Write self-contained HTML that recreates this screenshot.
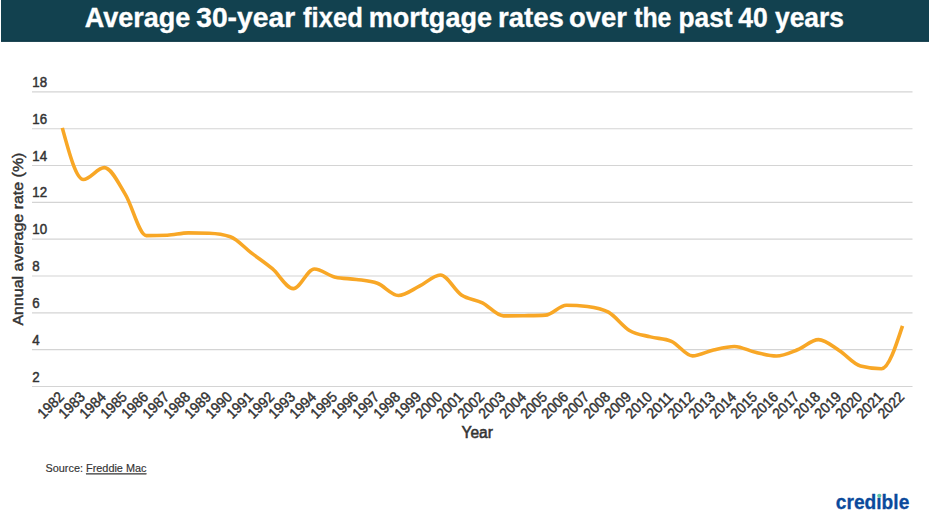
<!DOCTYPE html>
<html><head><meta charset="utf-8"><style>
html,body{margin:0;padding:0;background:#fff;width:931px;height:523px;overflow:hidden;position:relative;font-family:"Liberation Sans",sans-serif;}
svg{position:absolute;left:0;top:0;}
.g line{stroke:#d4d4d4;stroke-width:1.15;}
.yl text{font-size:14.8px;fill:#333;stroke:#333;stroke-width:0.5px;}
.xl text{font-size:14.8px;fill:#333;stroke:#333;stroke-width:0.45px;text-anchor:end;}
</style></head><body>
<svg width="931" height="523" viewBox="0 0 931 523" font-family="Liberation Sans, sans-serif">
<rect x="1" y="0" width="928" height="41.7" fill="#12414f"/>
<rect x="1" y="40.7" width="928" height="1" fill="#0b3442"/>
<g font-size="27.8" font-weight="bold" fill="#fff" stroke="#fff" stroke-width="0.35"><text x="84.79" y="27.3" textLength="105.61" lengthAdjust="spacingAndGlyphs">Average</text><text x="196.20" y="27.3" textLength="98.98" lengthAdjust="spacingAndGlyphs">30-year</text><text x="303.00" y="27.3" textLength="59.82" lengthAdjust="spacingAndGlyphs">fixed</text><text x="368.77" y="27.3" textLength="123.22" lengthAdjust="spacingAndGlyphs">mortgage</text><text x="497.91" y="27.3" textLength="65.91" lengthAdjust="spacingAndGlyphs">rates</text><text x="568.98" y="27.3" textLength="58.04" lengthAdjust="spacingAndGlyphs">over</text><text x="634.19" y="27.3" textLength="37.25" lengthAdjust="spacingAndGlyphs">the</text><text x="678.54" y="27.3" textLength="54.02" lengthAdjust="spacingAndGlyphs">past</text><text x="738.37" y="27.3" textLength="29.47" lengthAdjust="spacingAndGlyphs">40</text><text x="775.00" y="27.3" textLength="68.97" lengthAdjust="spacingAndGlyphs">years</text></g>
<g class="g"><line x1="32" y1="91.90" x2="912.5" y2="91.90"/><line x1="32" y1="128.72" x2="912.5" y2="128.72"/><line x1="32" y1="165.54" x2="912.5" y2="165.54"/><line x1="32" y1="202.36" x2="912.5" y2="202.36"/><line x1="32" y1="239.18" x2="912.5" y2="239.18"/><line x1="32" y1="276.00" x2="912.5" y2="276.00"/><line x1="32" y1="312.82" x2="912.5" y2="312.82"/><line x1="32" y1="349.64" x2="912.5" y2="349.64"/><line x1="32" y1="386.46" x2="912.5" y2="386.46"/></g>
<g class="yl"><text x="32.3" y="87.00" textLength="14.8" lengthAdjust="spacingAndGlyphs">18</text><text x="32.3" y="123.82" textLength="14.8" lengthAdjust="spacingAndGlyphs">16</text><text x="32.3" y="160.64" textLength="14.8" lengthAdjust="spacingAndGlyphs">14</text><text x="32.3" y="197.46" textLength="14.8" lengthAdjust="spacingAndGlyphs">12</text><text x="32.3" y="234.28" textLength="14.8" lengthAdjust="spacingAndGlyphs">10</text><text x="32.3" y="271.10" textLength="7.4" lengthAdjust="spacingAndGlyphs">8</text><text x="32.3" y="307.92" textLength="7.4" lengthAdjust="spacingAndGlyphs">6</text><text x="32.3" y="344.74" textLength="7.4" lengthAdjust="spacingAndGlyphs">4</text><text x="32.3" y="381.56" textLength="7.4" lengthAdjust="spacingAndGlyphs">2</text></g>
<g class="xl"><text transform="translate(65.00,397.9) rotate(-45)" textLength="30.5" lengthAdjust="spacingAndGlyphs">1982</text><text transform="translate(86.00,397.9) rotate(-45)" textLength="30.5" lengthAdjust="spacingAndGlyphs">1983</text><text transform="translate(107.01,397.9) rotate(-45)" textLength="30.5" lengthAdjust="spacingAndGlyphs">1984</text><text transform="translate(128.01,397.9) rotate(-45)" textLength="30.5" lengthAdjust="spacingAndGlyphs">1985</text><text transform="translate(149.02,397.9) rotate(-45)" textLength="30.5" lengthAdjust="spacingAndGlyphs">1986</text><text transform="translate(170.02,397.9) rotate(-45)" textLength="30.5" lengthAdjust="spacingAndGlyphs">1987</text><text transform="translate(191.03,397.9) rotate(-45)" textLength="30.5" lengthAdjust="spacingAndGlyphs">1988</text><text transform="translate(212.03,397.9) rotate(-45)" textLength="30.5" lengthAdjust="spacingAndGlyphs">1989</text><text transform="translate(233.04,397.9) rotate(-45)" textLength="30.5" lengthAdjust="spacingAndGlyphs">1990</text><text transform="translate(254.04,397.9) rotate(-45)" textLength="30.5" lengthAdjust="spacingAndGlyphs">1991</text><text transform="translate(275.05,397.9) rotate(-45)" textLength="30.5" lengthAdjust="spacingAndGlyphs">1992</text><text transform="translate(296.05,397.9) rotate(-45)" textLength="30.5" lengthAdjust="spacingAndGlyphs">1993</text><text transform="translate(317.06,397.9) rotate(-45)" textLength="30.5" lengthAdjust="spacingAndGlyphs">1994</text><text transform="translate(338.06,397.9) rotate(-45)" textLength="30.5" lengthAdjust="spacingAndGlyphs">1995</text><text transform="translate(359.07,397.9) rotate(-45)" textLength="30.5" lengthAdjust="spacingAndGlyphs">1996</text><text transform="translate(380.07,397.9) rotate(-45)" textLength="30.5" lengthAdjust="spacingAndGlyphs">1997</text><text transform="translate(401.08,397.9) rotate(-45)" textLength="30.5" lengthAdjust="spacingAndGlyphs">1998</text><text transform="translate(422.08,397.9) rotate(-45)" textLength="30.5" lengthAdjust="spacingAndGlyphs">1999</text><text transform="translate(443.09,397.9) rotate(-45)" textLength="30.5" lengthAdjust="spacingAndGlyphs">2000</text><text transform="translate(464.09,397.9) rotate(-45)" textLength="30.5" lengthAdjust="spacingAndGlyphs">2001</text><text transform="translate(485.10,397.9) rotate(-45)" textLength="30.5" lengthAdjust="spacingAndGlyphs">2002</text><text transform="translate(506.10,397.9) rotate(-45)" textLength="30.5" lengthAdjust="spacingAndGlyphs">2003</text><text transform="translate(527.11,397.9) rotate(-45)" textLength="30.5" lengthAdjust="spacingAndGlyphs">2004</text><text transform="translate(548.12,397.9) rotate(-45)" textLength="30.5" lengthAdjust="spacingAndGlyphs">2005</text><text transform="translate(569.12,397.9) rotate(-45)" textLength="30.5" lengthAdjust="spacingAndGlyphs">2006</text><text transform="translate(590.12,397.9) rotate(-45)" textLength="30.5" lengthAdjust="spacingAndGlyphs">2007</text><text transform="translate(611.13,397.9) rotate(-45)" textLength="30.5" lengthAdjust="spacingAndGlyphs">2008</text><text transform="translate(632.13,397.9) rotate(-45)" textLength="30.5" lengthAdjust="spacingAndGlyphs">2009</text><text transform="translate(653.14,397.9) rotate(-45)" textLength="30.5" lengthAdjust="spacingAndGlyphs">2010</text><text transform="translate(674.14,397.9) rotate(-45)" textLength="30.5" lengthAdjust="spacingAndGlyphs">2011</text><text transform="translate(695.15,397.9) rotate(-45)" textLength="30.5" lengthAdjust="spacingAndGlyphs">2012</text><text transform="translate(716.15,397.9) rotate(-45)" textLength="30.5" lengthAdjust="spacingAndGlyphs">2013</text><text transform="translate(737.16,397.9) rotate(-45)" textLength="30.5" lengthAdjust="spacingAndGlyphs">2014</text><text transform="translate(758.16,397.9) rotate(-45)" textLength="30.5" lengthAdjust="spacingAndGlyphs">2015</text><text transform="translate(779.17,397.9) rotate(-45)" textLength="30.5" lengthAdjust="spacingAndGlyphs">2016</text><text transform="translate(800.17,397.9) rotate(-45)" textLength="30.5" lengthAdjust="spacingAndGlyphs">2017</text><text transform="translate(821.18,397.9) rotate(-45)" textLength="30.5" lengthAdjust="spacingAndGlyphs">2018</text><text transform="translate(842.18,397.9) rotate(-45)" textLength="30.5" lengthAdjust="spacingAndGlyphs">2019</text><text transform="translate(863.19,397.9) rotate(-45)" textLength="30.5" lengthAdjust="spacingAndGlyphs">2020</text><text transform="translate(884.19,397.9) rotate(-45)" textLength="30.5" lengthAdjust="spacingAndGlyphs">2021</text><text transform="translate(905.20,397.9) rotate(-45)" textLength="30.5" lengthAdjust="spacingAndGlyphs">2022</text></g>
<text transform="translate(23.3,325.6) rotate(-90)" font-size="15.4" fill="#333" stroke="#333" stroke-width="0.45" textLength="173" lengthAdjust="spacingAndGlyphs">Annual average rate (%)</text>
<text x="461.5" y="438.4" font-size="16" fill="#333" stroke="#333" stroke-width="0.55" textLength="31.3" lengthAdjust="spacingAndGlyphs">Year</text>
<path d="M62.30,127.89C69.30,153.67,76.30,179.44,83.30,179.44C90.31,179.44,97.31,167.66,104.31,167.66C111.31,167.66,118.31,183.03,125.31,194.36C132.32,205.68,139.32,235.60,146.32,235.60C153.32,235.60,160.32,235.48,167.32,235.23C174.33,234.99,181.33,232.84,188.33,232.84C195.33,232.84,202.33,232.96,209.33,233.21C216.34,233.45,223.34,234.37,230.34,236.71C237.34,239.04,244.34,247.57,251.34,252.91C258.35,258.25,265.35,262.79,272.35,268.74C279.35,274.70,286.35,288.63,293.35,288.63C300.36,288.63,307.36,268.93,314.36,268.93C321.36,268.93,328.36,275.74,335.37,277.21C342.37,278.69,349.37,278.41,356.37,279.42C363.37,280.44,370.37,280.71,377.38,283.29C384.38,285.87,391.38,295.44,398.38,295.44C405.38,295.44,412.38,289.64,419.38,286.24C426.39,282.83,433.39,275.00,440.39,275.00C447.39,275.00,454.39,290.26,461.39,294.89C468.40,299.52,475.40,299.31,482.40,302.81C489.40,306.31,496.40,315.88,503.40,315.88C510.41,315.88,517.41,315.82,524.41,315.70C531.41,315.57,538.41,315.51,545.41,315.14C552.42,314.78,559.42,305.20,566.42,305.20C573.42,305.20,580.42,305.63,587.42,306.49C594.43,307.35,601.43,308.39,608.43,312.20C615.43,316.00,622.43,326.31,629.43,330.43C636.44,334.54,643.44,335.06,650.44,336.87C657.44,338.68,664.44,338.34,671.44,341.29C678.45,344.24,685.45,355.84,692.45,355.84C699.45,355.84,706.45,351.51,713.45,349.94C720.46,348.38,727.46,346.44,734.46,346.44C741.46,346.44,748.46,350.74,755.46,352.34C762.47,353.93,769.47,356.02,776.47,356.02C783.47,356.02,790.47,352.49,797.47,349.76C804.48,347.03,811.48,339.63,818.48,339.63C825.48,339.63,832.48,346.29,839.48,350.68C846.49,355.07,853.49,364.12,860.49,365.96C867.49,367.80,874.49,368.72,881.49,368.72C888.50,368.72,895.50,347.27,902.50,325.82" fill="none" stroke="#f8a726" stroke-width="3.6"/>
<text x="45.5" y="472.3" font-size="11" fill="#333" stroke="#333" stroke-width="0.15" textLength="101" lengthAdjust="spacingAndGlyphs">Source: <tspan text-decoration="underline">Freddie Mac</tspan></text>
<text x="835.8" y="509.4" font-size="21" font-weight="bold" fill="#0a4a9c" stroke="#0a4a9c" stroke-width="0.3" textLength="73.5" lengthAdjust="spacingAndGlyphs">cred&#305;ble</text>
<circle cx="879.3" cy="495.8" r="2.1" fill="#5ec4a6"/>
</svg>
</body></html>
